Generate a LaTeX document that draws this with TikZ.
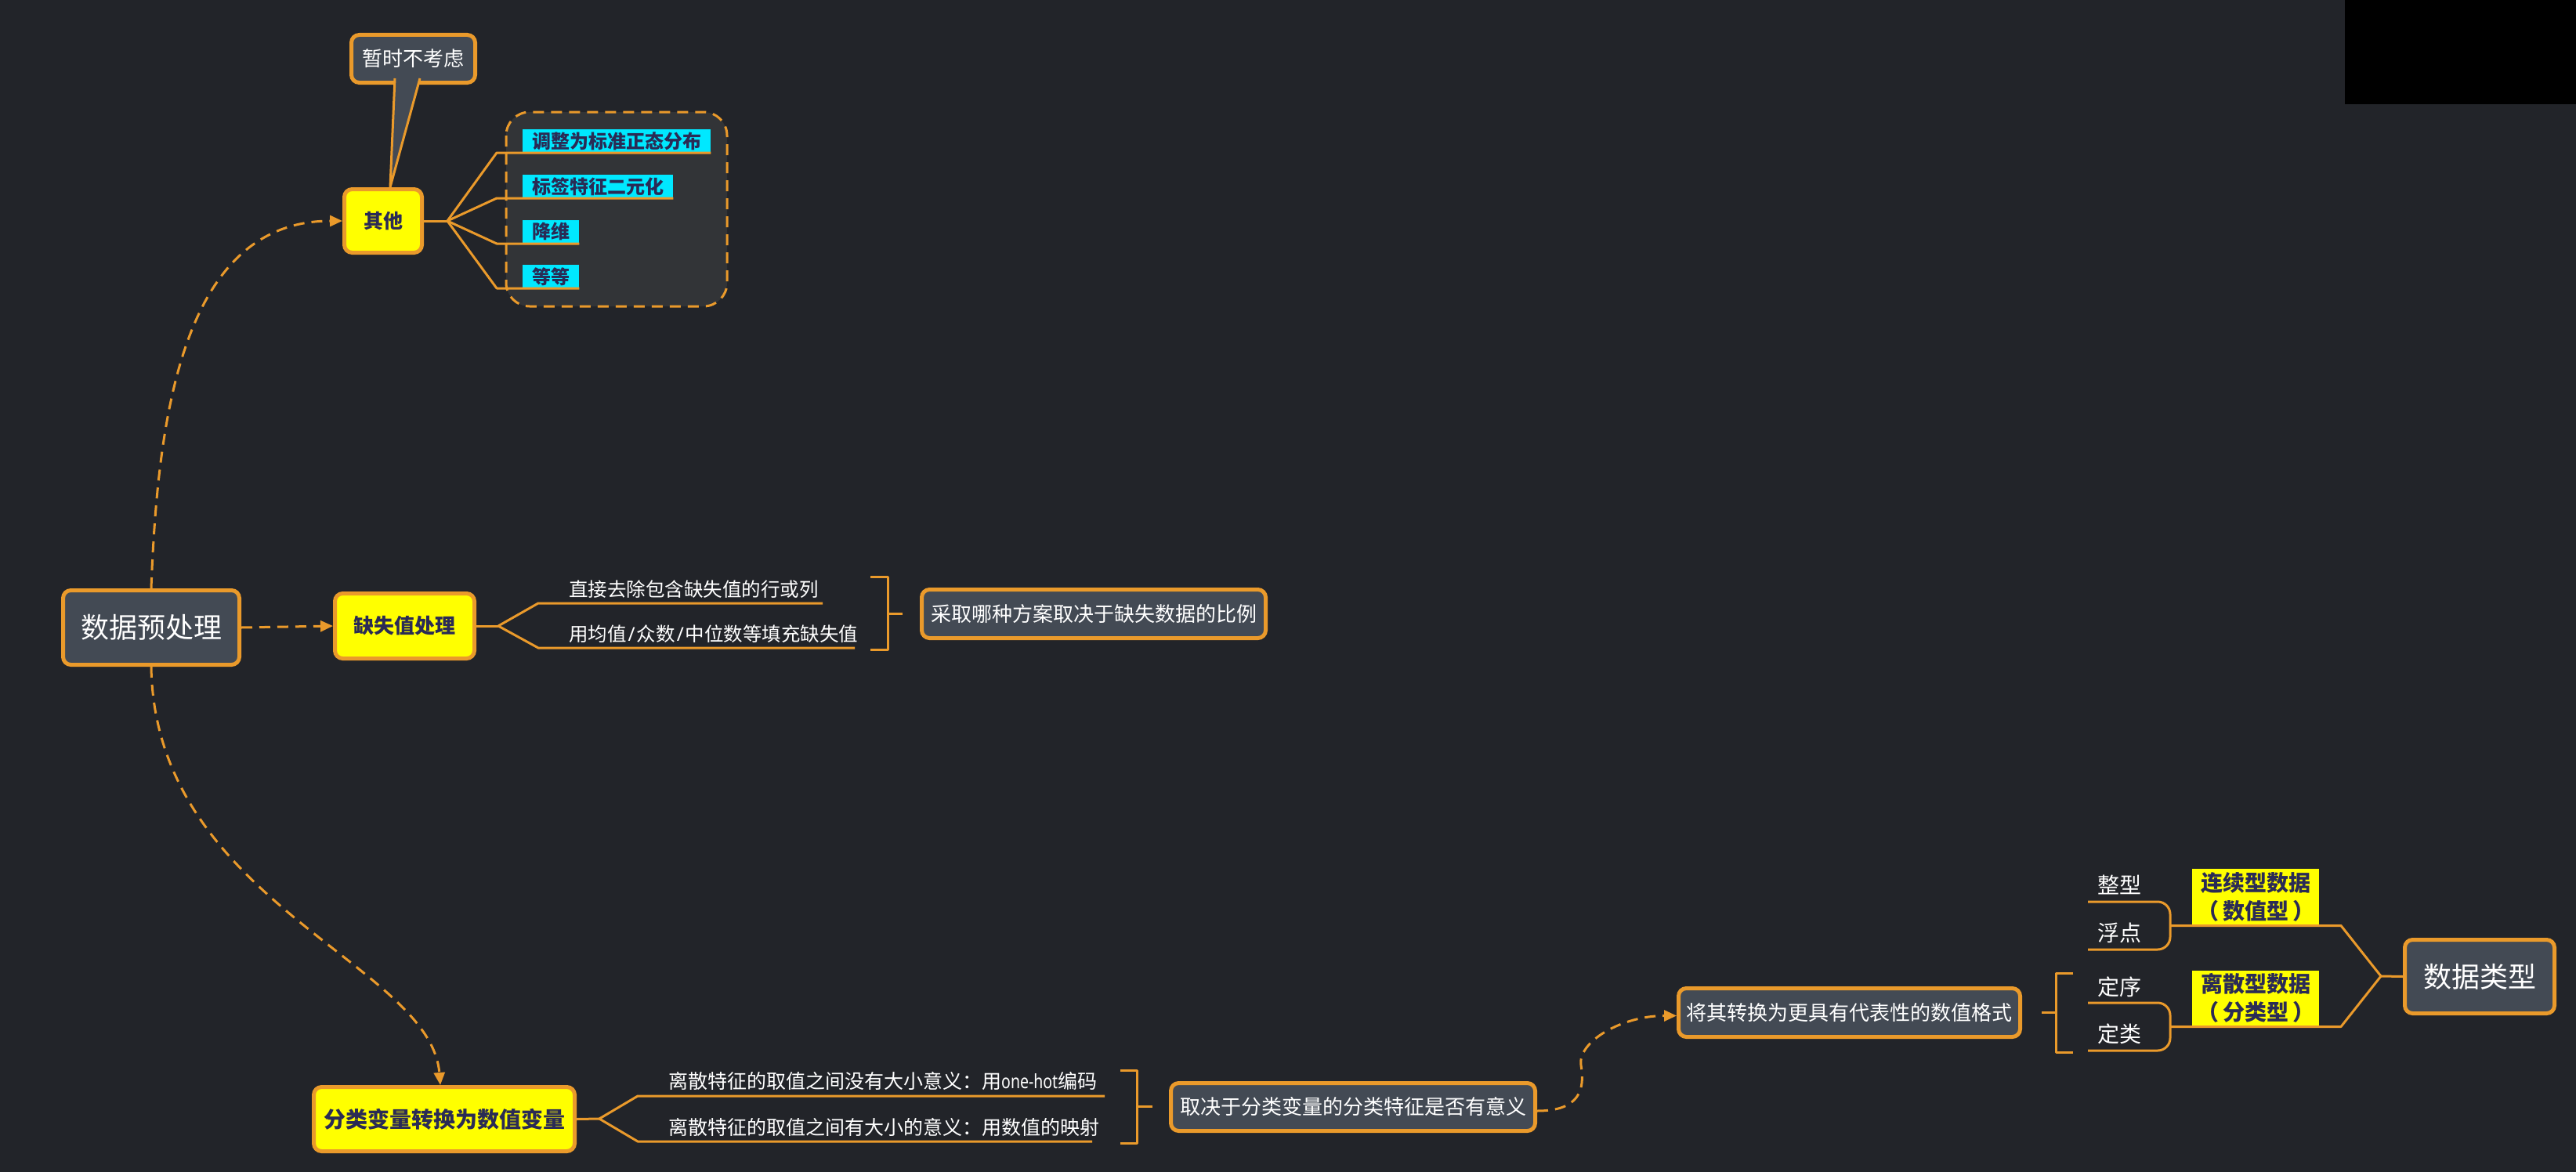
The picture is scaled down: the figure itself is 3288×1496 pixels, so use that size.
\documentclass[tikz,border=0pt]{standalone}
\usepackage{fontspec}
\setmainfont{Noto Sans CJK SC}
\newfontfamily\lat{Noto Sans}
\usetikzlibrary{arrows.meta,calc}

\definecolor{bgc}{HTML}{222429}
\definecolor{orc}{HTML}{EA9A2B}
\definecolor{boxgray}{HTML}{434A54}
\definecolor{boxdark}{HTML}{323437}
\definecolor{yel}{HTML}{FFFF00}
\definecolor{navy}{HTML}{2A2B55}
\definecolor{cyanc}{HTML}{00E8FF}

\newcommand\setfs[1]{\fontsize{#1pt}{#1pt}\selectfont}
\newcommand\narrowlat[1]{{\lat\scalebox{0.78}[1]{#1}}}
\newcommand\slashsep{{\lat\hspace{2pt}/\hspace{2pt}}}

\tikzset{
  link/.style={draw=orc, line width=3pt, line join=round},
  dashlink/.style={draw=orc, line width=3pt, dash pattern=on 14pt off 9pt,
    -{Triangle[length=16pt,width=14pt]}},
  box/.style={rectangle, rounded corners=10pt, draw=orc, line width=5pt,
    inner sep=0pt, align=center},
  graybox/.style={box, fill=boxgray, text=white},
  yelbox/.style={box, fill=yel, text=navy},
  ytag/.style={rectangle, fill=yel, text=navy, inner sep=0pt, align=center,
    minimum width=162pt, font=\fontsize{28pt}{36pt}\selectfont\bfseries},
  ctag/.style={rectangle, fill=cyanc, text=navy, inner xsep=12pt, inner ysep=0pt,
    minimum height=30pt, anchor=south west, font=\setfs{24}\bfseries},
  leaf/.style={text=white, inner sep=0pt, anchor=base west},
}

\begin{document}
\begin{tikzpicture}[x=1pt,y=-1pt]
\fill[bgc] (0,0) rectangle (3288,1496);
\useasboundingbox (0,0) rectangle (3288,1496);
\fill[black] (2993,0) rectangle (3288,133);

% dashed group around the "other" items
\draw[orc, line width=3pt, dash pattern=on 14pt off 9pt, fill=boxdark,
  rounded corners=30pt] (646,143) rectangle (928,391);

% main topics
\node[graybox, minimum width=225pt, minimum height=95pt, font=\setfs{36}] (root) at (193,801) {数据预处理};
\node[yelbox, minimum width=178pt, minimum height=83pt, font=\setfs{26}\bfseries] (cm) at (516.5,799) {缺失值处理};
\node[yelbox, minimum width=99pt, minimum height=81pt, font=\setfs{25}\bfseries] (qt) at (489,282) {其他};
\node[yelbox, minimum width=333pt, minimum height=82pt, font=\setfs{28}\bfseries] (cat) at (567,1428.5) {分类变量转换为数值变量};

% callout note
\node[graybox, minimum width=158pt, minimum height=61pt, font=\setfs{26}] (note) at (527.5,75) {暂时不考虑};
\coordinate (tailL) at (504,100);
\coordinate (tailR) at (536,100);
\coordinate (tailA) at (498,239);
\fill[boxgray] (tailL) -- (tailA) -- (tailR) -- cycle;
\draw[link] (tailL) -- (tailA) -- (tailR);

% summary boxes
\node[graybox, minimum width=439pt, minimum height=62pt, font=\setfs{26}] (ratio) at (1396,783.5) {采取哪种方案取决于缺失数据的比例};
\node[graybox, minimum width=465pt, minimum height=61pt, font=\setfs{26}] (dep) at (1727,1413) {取决于分类变量的分类特征是否有意义};
\node[graybox, minimum width=436pt, minimum height=62pt, font=\setfs{26}] (conv) at (2360.5,1292.5) {将其转换为更具有代表性的数值格式};
\node[graybox, minimum width=191pt, minimum height=94pt, font=\setfs{36}] (dtype) at (3165,1246.5) {数据类型};

% dashed relations from the root
\draw[dashlink] (root.north) .. controls +(8,-209) and +(-207,0) .. (qt.west);
\draw[dashlink] (root.east) -- (cm.west);
\draw[dashlink] (root.south) .. controls +(5,300) and +(-12,-155) .. ([xshift=-5pt]cat.north);
\coordinate (sbend) at (2018,1360);
\draw[dashlink] ([yshift=-5pt]dep.east) .. controls +(55,0) and +(5,30) .. (sbend)
  .. controls +(-5,-30) and +(-70,0) .. ([yshift=-4pt]conv.west);

% other: cyan tags
\node[ctag] (t1) at (667,195) {调整为标准正态分布};
\node[ctag] (t2) at (667,253) {标签特征二元化};
\node[ctag] (t3) at (667,311) {降维};
\node[ctag] (t4) at (667,368) {等等};
\coordinate (fq) at (571,282);
\draw[link] (qt.east) -- (fq);
\draw[link] (fq) -- (634,195) -- (t1.south east);
\draw[link] (fq) -- (634,253) -- (t2.south east);
\draw[link] (fq) -- (634,311) -- (t3.south east);
\draw[link] (fq) -- (634,368) -- (t4.south east);

% missing values: branches
\node[leaf, font=\setfs{24.5}] (m1) at (726,761) {直接去除包含缺失值的行或列};
\node[leaf, font=\setfs{24.5}] (m2) at (726,818) {用均值\slashsep 众数\slashsep 中位数等填充缺失值};
\coordinate (fm) at (636,799);
\coordinate (m1e) at (1050,770);
\coordinate (m2e) at (1091,827);
\draw[link] (cm.east) -- (fm);
\draw[link] (fm) -- (687,770) -- (m1e);
\draw[link] (fm) -- (687,827) -- (m2e);
\draw[link] (1111,736) -- (1133,736) -- (1133,829) -- (1111,829);
\draw[link] (1133,783) -- (1152,783);

% categorical: branches
\node[leaf, font=\setfs{25}] (c1) at (853,1389) {离散特征的取值之间没有大小意义：用\narrowlat{one-hot}编码};
\node[leaf, font=\setfs{25}] (c2) at (853,1448) {离散特征的取值之间有大小的意义：用数值的映射};
\coordinate (fc) at (765,1428);
\coordinate (c1e) at (1410,1399);
\coordinate (c2e) at (1394,1457);
\draw[link] (cat.east) -- (fc);
\draw[link] (fc) -- (814,1399) -- (c1e);
\draw[link] (fc) -- (814,1457) -- (c2e);
\draw[link] (1430,1366) -- (1451,1366) -- (1451,1459) -- (1430,1459);
\draw[link] (1451,1412) -- (1471,1412);

% data types
\node[ytag, minimum height=71pt] (cont) at (2879,1144.5) {连续型数据\\（\hspace{5pt}数值型\hspace{5pt}）};
\node[ytag, minimum height=70pt] (disc) at (2879,1274) {离散型数据\\（\hspace{5pt}分类型\hspace{5pt}）};
\node[leaf, font=\setfs{28}] (int) at (2677,1140) {整型};
\node[leaf, font=\setfs{28}] (flt) at (2677,1201) {浮点};
\node[leaf, font=\setfs{28}] (ord) at (2677,1270) {定序};
\node[leaf, font=\setfs{28}] (nom) at (2677,1330) {定类};
\draw[link, rounded corners=16pt] (2665,1151) -- (2770,1151) -- (2770,1212) -- (2665,1212);
\draw[link, rounded corners=16pt] (2665,1280) -- (2770,1280) -- (2770,1341) -- (2665,1341);
\coordinate (fd) at (3039,1246);
\draw[link] (2770,1181.5) -- (2988,1181.5) -- (fd);
\draw[link] (2770,1310.5) -- (2988,1310.5) -- (fd);
\draw[link] (fd) -- (dtype.west);
\draw[link] (2646,1242) -- (2624,1242) -- (2624,1343) -- (2646,1343);
\draw[link] (2606,1292) -- (2624,1292);
\end{tikzpicture}
\end{document}
